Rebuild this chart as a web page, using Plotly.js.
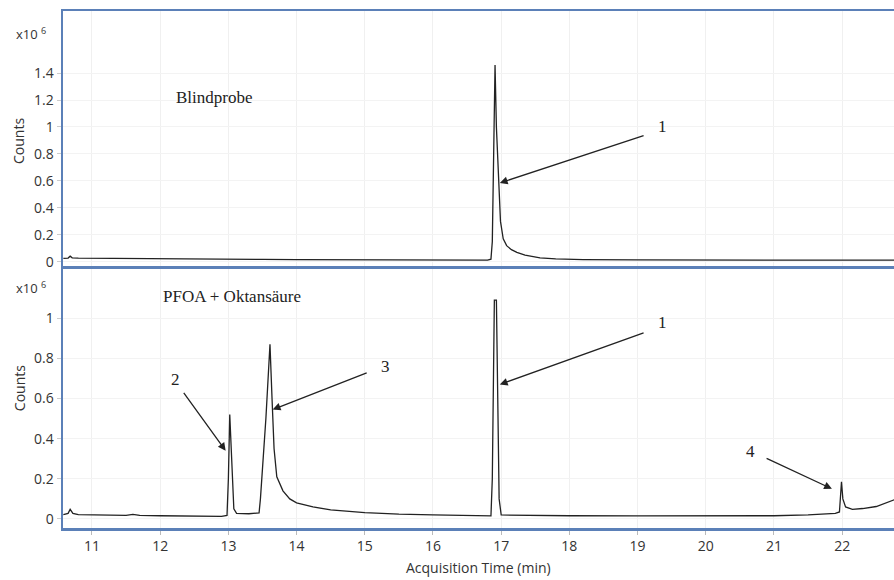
<!DOCTYPE html>
<html><head><meta charset="utf-8">
<script src="https://cdn.plot.ly/plotly-3.0.1.min.js"></script>
<style>html,body{margin:0;padding:0;background:#fff}#chart{width:894px;height:580px}</style>
</head><body><div id="chart"></div>
<script>
// Blindprobe (top), counts in x10^6
const blankTime = [10.58,10.65,10.68,10.71,10.8,11.0,11.5,12.0,12.5,13.0,13.5,14.0,14.5,15.0,15.5,16.0,16.5,16.8,16.85,16.87,16.89,16.91,16.93,16.96,16.99,17.03,17.08,17.15,17.23,17.35,17.57,17.8,18.2,19.0,20.0,21.0,22.0,22.8];
const blankCounts = [0.025,0.028,0.042,0.03,0.027,0.026,0.024,0.022,0.02,0.019,0.018,0.017,0.016,0.015,0.014,0.014,0.013,0.013,0.02,0.15,0.8,1.46,1.0,0.58,0.3,0.17,0.12,0.09,0.07,0.05,0.03,0.022,0.017,0.014,0.012,0.012,0.012,0.012];
// PFOA + Oktansäure (bottom)
const sampleTime = [10.58,10.65,10.68,10.72,10.8,11.0,11.5,11.6,11.7,12.0,12.5,12.9,12.98,13.0,13.02,13.05,13.08,13.12,13.3,13.45,13.47,13.55,13.61,13.64,13.67,13.71,13.8,13.9,14.0,14.24,14.5,15.0,15.5,16.0,16.5,16.85,16.87,16.89,16.9,16.93,16.95,16.97,17.0,17.3,18.0,19.0,20.0,20.5,21.0,21.5,21.9,21.96,21.98,21.99,22.01,22.05,22.15,22.3,22.5,22.7,22.8];
const sampleCounts = [0.022,0.028,0.048,0.028,0.022,0.02,0.018,0.023,0.018,0.016,0.014,0.013,0.018,0.2,0.52,0.3,0.05,0.028,0.026,0.03,0.1,0.5,0.87,0.6,0.35,0.21,0.14,0.1,0.08,0.06,0.045,0.032,0.024,0.02,0.017,0.015,0.2,0.8,1.09,1.09,0.5,0.1,0.02,0.018,0.016,0.015,0.014,0.014,0.016,0.02,0.028,0.035,0.15,0.185,0.1,0.06,0.048,0.052,0.062,0.085,0.1];
const blankTicks = [0,0.2,0.4,0.6,0.8,1,1.2,1.4];
const sampleTicks = [0,0.2,0.4,0.6,0.8,1];
const xTicks = [11,12,13,14,15,16,17,18,19,20,21,22];

const blue = '#5b80b8';
const tickFont = {family:'Open Sans, Liberation Sans, sans-serif', size:14, color:'#333'};
const serif = {family:'Liberation Serif, DejaVu Serif, serif', size:17, color:'#222'};
const sans = {family:'Open Sans, sans-serif', size:14, color:'#333'};

const traces = [
  {x: blankTime, y: blankCounts, xaxis:'x2', yaxis:'y2', mode:'lines', line:{color:'#222', width:1.3}, hoverinfo:'skip'},
  {x: sampleTime, y: sampleCounts, xaxis:'x', yaxis:'y', mode:'lines', line:{color:'#222', width:1.3}, hoverinfo:'skip'}
];

function arrow(xr, yr, x, y, ax, ay){
  return {xref:xr, yref:yr, axref:xr, ayref:yr, x:x, y:y, ax:ax, ay:ay, text:'', showarrow:true,
    arrowhead:2, arrowsize:1.2, arrowwidth:1.3, arrowcolor:'#222'};
}
function label(xr, yr, x, y, t){
  return {xref:xr, yref:yr, x:x, y:y, text:t, showarrow:false, font:serif, xanchor:'center', yanchor:'middle'};
}

const annotations = [
  label('x2','y2',12.8,1.22,'Blindprobe'),
  label('x','y',13.05,1.11,'PFOA + Oktansäure'),
  label('x2','y2',19.37,1.0,'1'), arrow('x2','y2',16.98,0.585,19.11,0.94),
  label('x','y',19.36,0.98,'1'), arrow('x','y',16.98,0.67,19.11,0.93),
  label('x','y',12.22,0.695,'2'), arrow('x','y',12.96,0.34,12.33,0.635),
  label('x','y',15.30,0.76,'3'), arrow('x','y',13.65,0.545,15.05,0.73),
  label('x','y',20.65,0.335,'4'), arrow('x','y',21.85,0.15,20.87,0.305),
  {xref:'paper', yref:'y2 domain', x:0, y:0.49, xshift:-44, xanchor:'center', yanchor:'middle', text:'Counts', textangle:-90, showarrow:false, font:sans},
  {xref:'paper', yref:'y domain', x:0, y:0.54, xshift:-44, xanchor:'center', yanchor:'middle', text:'Counts', textangle:-90, showarrow:false, font:sans},
  {xref:'paper', yref:'y2 domain', x:0, y:1, xshift:-32, yshift:-22, xanchor:'center', yanchor:'middle', text:'x10 <sup>6</sup>', showarrow:false, font:{family:'Open Sans, sans-serif', size:13, color:'#333'}},
  {xref:'paper', yref:'y domain', x:0, y:1, xshift:-32, yshift:-19, xanchor:'center', yanchor:'middle', text:'x10 <sup>6</sup>', showarrow:false, font:{family:'Open Sans, sans-serif', size:13, color:'#333'}},
  {xref:'paper', yref:'paper', x:0.5, y:0, yshift:-39, xanchor:'center', yanchor:'middle', text:'Acquisition Time (min)', showarrow:false, font:sans}
];

const xCommon = {range:[10.575,22.76], tickvals:xTicks, showgrid:true, gridcolor:'#f0f0f0', zeroline:false,
  showline:true, linecolor:blue, linewidth:2.5, mirror:true, ticks:'outside', ticklen:4, tickcolor:'#bbb', tickfont:tickFont};
const layout = {
  width:894, height:580, margin:{l:63, r:0, t:11, b:52},
  paper_bgcolor:'#fff', plot_bgcolor:'#fff', showlegend:false,
  xaxis: Object.assign({}, xCommon, {anchor:'y'}),
  xaxis2: Object.assign({}, xCommon, {anchor:'y2', matches:'x', showticklabels:false, ticks:''}),
  yaxis: {domain:[0,0.501], range:[-0.045,1.245], tickvals:sampleTicks, ticktext:sampleTicks.map(String), showgrid:true, gridcolor:'#f3f3f3', zeroline:false,
    showline:true, linecolor:blue, linewidth:2.5, ticks:'outside', ticklen:4, tickcolor:'#ccc', tickfont:tickFont, anchor:'x'},
  yaxis2: {domain:[0.507,1], range:[-0.03,1.86], tickvals:blankTicks, ticktext:blankTicks.map(String), showgrid:true, gridcolor:'#f3f3f3', zeroline:false,
    showline:true, linecolor:blue, linewidth:2.5, ticks:'outside', ticklen:4, tickcolor:'#ccc', tickfont:tickFont, anchor:'x2'},
  annotations: annotations
};
Plotly.newPlot('chart', traces, layout, {displayModeBar:false, staticPlot:true});
</script></body></html>
